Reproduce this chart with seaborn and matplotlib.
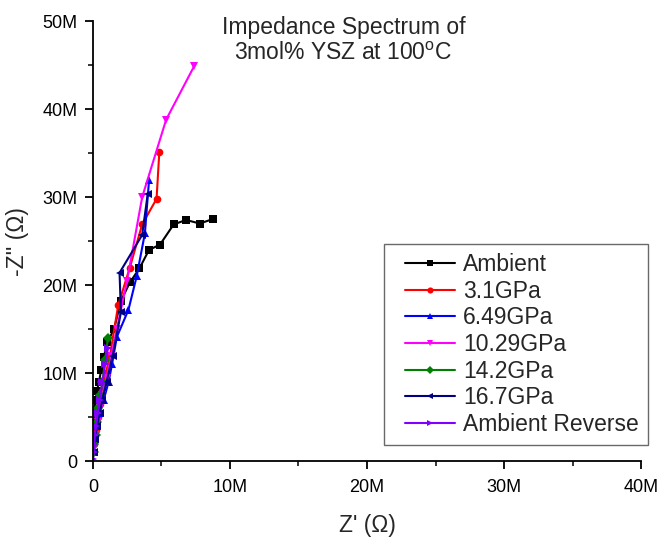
import numpy as np
import pandas as pd
import matplotlib
matplotlib.use("Agg")
import matplotlib.pyplot as plt
import seaborn as sns
from matplotlib.ticker import MultipleLocator, FuncFormatter
from matplotlib.legend_handler import HandlerLine2D
from matplotlib.lines import Line2D

# Data in units of M-Ohm
amb_x = [0.05, 0.1, 0.2, 0.3, 0.45, 0.6, 0.8, 1.05, 1.55, 2.05, 2.7, 3.4, 4.1, 4.9, 5.9, 6.8, 7.8, 8.75]
amb_y = [4.8, 5.8, 6.9, 8.0, 9.0, 10.3, 11.8, 13.5, 15.0, 18.2, 20.3, 21.9, 24.0, 24.6, 26.9, 27.4, 27.0, 27.5]

p31_x = [0.1, 0.2, 0.35, 0.5, 0.7, 0.95, 1.25, 1.85, 2.7, 3.6, 4.65, 4.85]
p31_y = [2.0, 3.5, 5.0, 6.5, 8.0, 10.0, 12.0, 17.7, 22.0, 26.9, 29.8, 35.1]

p649_x = [0.05, 0.15, 0.3, 0.5, 0.8, 1.15, 1.4, 1.75, 2.6, 3.2, 3.8, 4.1]
p649_y = [1.0, 2.5, 4.0, 5.5, 7.0, 9.0, 11.0, 14.1, 17.2, 21.0, 25.9, 31.9]

p1029_x = [0.1, 0.2, 0.35, 0.5, 0.7, 1.0, 1.35, 1.75, 2.5, 3.6, 5.35, 7.4]
p1029_y = [1.5, 3.0, 4.5, 6.0, 7.5, 9.5, 12.0, 15.0, 20.5, 30.0, 38.8, 44.9]

p142_x = [0.05, 0.1, 0.2, 0.3, 0.4, 0.55, 0.7, 0.9, 1.1]
p142_y = [1.0, 2.0, 3.0, 4.5, 6.0, 7.5, 9.0, 11.5, 14.0]

p167_x = [0.05, 0.15, 0.3, 0.5, 0.7, 1.0, 1.45, 2.05, 1.95, 3.6, 4.0]
p167_y = [1.0, 2.5, 4.0, 5.5, 7.0, 9.0, 12.0, 16.9, 21.4, 25.7, 30.3]

rev_x = [0.02, 0.05, 0.1, 0.15, 0.25, 0.35, 0.5, 0.7, 0.9, 1.1]
rev_y = [0.3, 1.0, 2.0, 3.0, 4.0, 5.5, 7.0, 9.0, 11.0, 12.8]

labels = ["Ambient", "3.1GPa", "6.49GPa", "10.29GPa", "14.2GPa", "16.7GPa", "Ambient Reverse"]
xs = [amb_x, p31_x, p649_x, p1029_x, p142_x, p167_x, rev_x]
ys = [amb_y, p31_y, p649_y, p1029_y, p142_y, p167_y, rev_y]

colors = ["#000000", "#ff0000", "#0000ff", "#ff00ff", "#008000", "#000080", "#8000ff"]
markers = ["s", "o", "^", "v", "D", "<", ">"]

rows = []
for lab, x, y in zip(labels, xs, ys):
    for i, (a, b) in enumerate(zip(x, y)):
        rows.append({"series": lab, "order": i, "x": a * 1e6, "y": b * 1e6})
df = pd.DataFrame(rows)

sns.set_style("ticks")
plt.rcParams["font.family"] = ["Liberation Sans", "DejaVu Sans"]
plt.rcParams["mathtext.default"] = "regular"

fig = plt.figure(figsize=(6.63, 5.4), dpi=100)
ax = fig.add_axes([0.140, 0.146, 0.827, 0.815])

sns.lineplot(data=df, x="x", y="y", hue="series", style="series",
             hue_order=labels, style_order=labels,
             palette=dict(zip(labels, colors)),
             markers=dict(zip(labels, markers)), dashes=False,
             sort=False, estimator=None, units="series",
             markersize=5.5, markeredgewidth=0, linewidth=1.5, ax=ax)

ax.set_xlim(0, 40e6)
ax.set_ylim(0, 50e6)
fmt = FuncFormatter(lambda v, p: "0" if v == 0 else f"{int(round(v/1e6))}M")
ax.xaxis.set_major_locator(MultipleLocator(10e6))
ax.xaxis.set_minor_locator(MultipleLocator(5e6))
ax.yaxis.set_major_locator(MultipleLocator(10e6))
ax.yaxis.set_minor_locator(MultipleLocator(5e6))
ax.xaxis.set_major_formatter(fmt)
ax.yaxis.set_major_formatter(fmt)
ax.tick_params(which="major", direction="out", length=6, width=1.3, labelsize=13, colors="black")
ax.tick_params(axis="x", which="major", pad=7)
ax.tick_params(axis="y", which="major", pad=5)
ax.tick_params(which="minor", direction="out", length=3.5, width=1.3)
for s in ["top", "right"]:
    ax.spines[s].set_visible(False)
for s in ["left", "bottom"]:
    ax.spines[s].set_linewidth(1.3)
    ax.spines[s].set_color("black")

ax.set_xlabel("Z' (\u03a9)", fontsize=16.5, labelpad=13)
ax.set_ylabel("-Z'' (\u03a9)", fontsize=16.5, labelpad=10)

ax.text(0.457, 1.012, "Impedance Spectrum of\n3mol% YSZ at 100$^{o}$C",
        transform=ax.transAxes, ha="center", va="top", fontsize=16.5, linespacing=1.2)

handles, labs = ax.get_legend_handles_labels()
leg = ax.legend(handles, labs, loc="lower right", bbox_to_anchor=(1.013, 0.036),
                borderaxespad=0,
                fontsize=16.5, frameon=True, fancybox=False, edgecolor="#444444",
                handlelength=2.7, labelspacing=0.16, borderpad=0.4,
                handletextpad=0.35, markerscale=0.8,
                handler_map={Line2D: HandlerLine2D(xpad=0.5)})
leg.get_frame().set_linewidth(1.0)

fig.savefig("out.png", dpi=100)
